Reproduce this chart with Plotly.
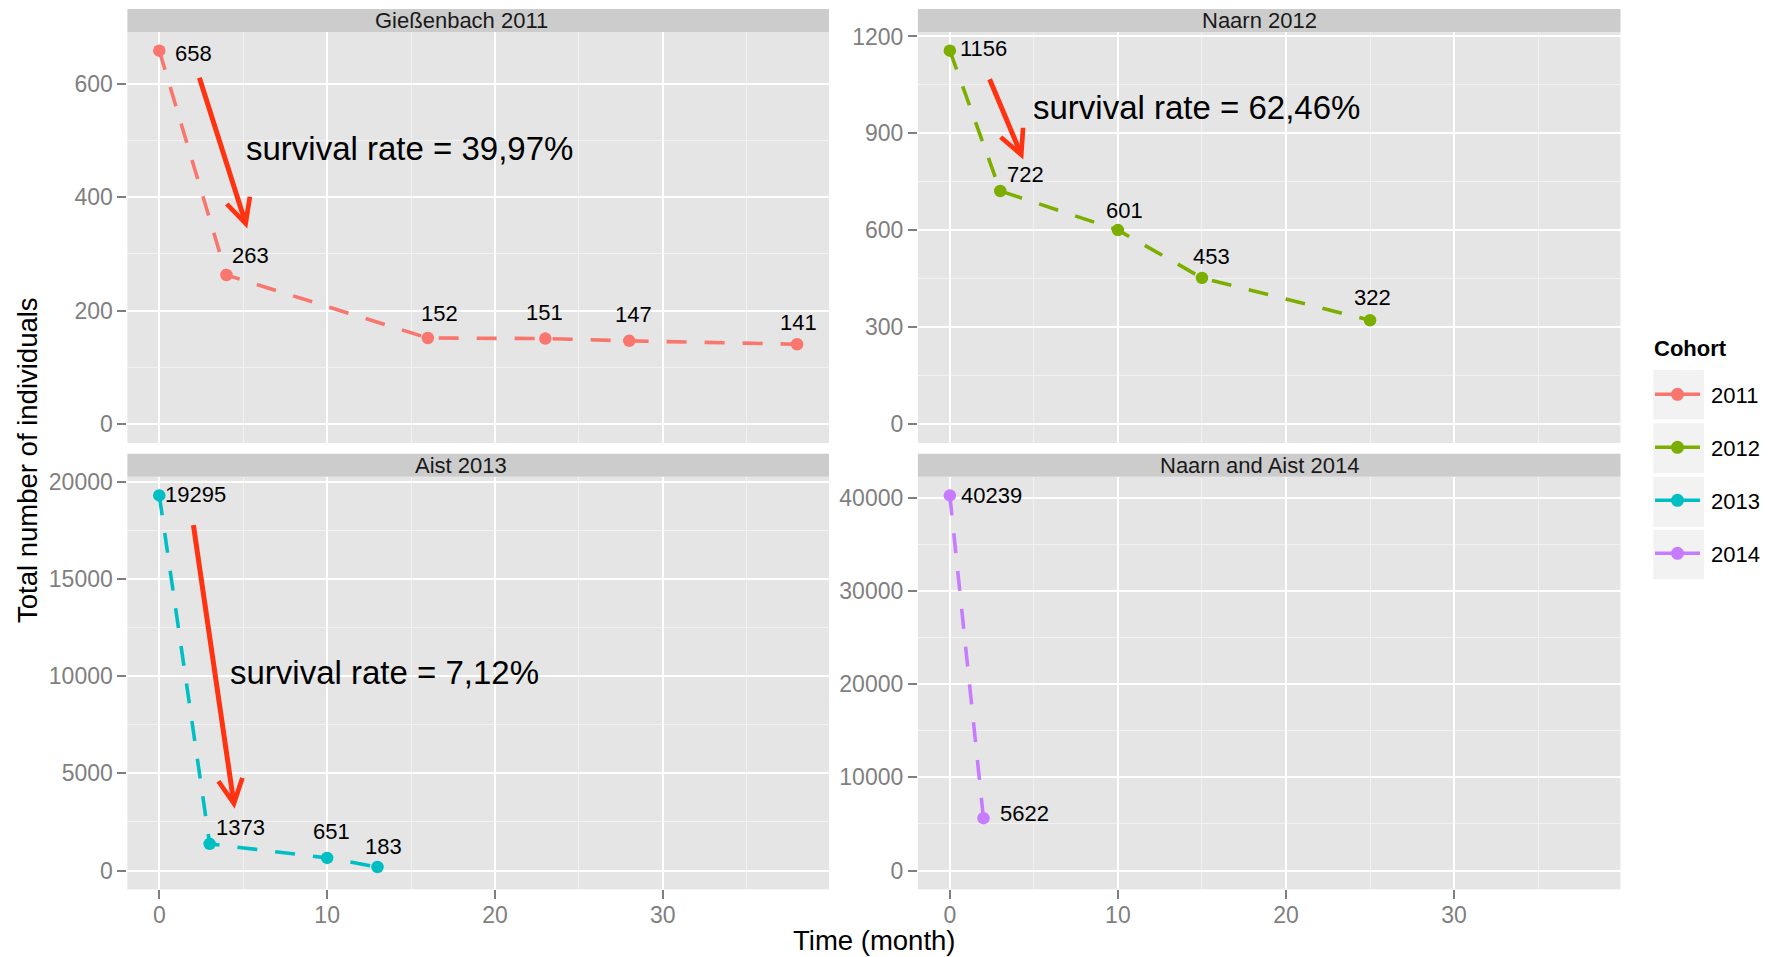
import plotly.graph_objects as go

# ---------------- data ----------------
cohorts = ["2011", "2012", "2013", "2014"]
panel_titles = ["Gießenbach 2011", "Naarn 2012", "Aist 2013", "Naarn and Aist 2014"]

months_2011 = [0, 4, 16, 23, 28, 38]
counts_2011 = [658, 263, 152, 151, 147, 141]

months_2012 = [0, 3, 10, 15, 25]
counts_2012 = [1156, 722, 601, 453, 322]

months_2013 = [0, 3, 10, 13]
counts_2013 = [19295, 1373, 651, 183]

months_2014 = [0, 2]
counts_2014 = [40239, 5622]

survival_texts = ["survival rate = 39,97%", "survival rate = 62,46%", "survival rate = 7,12%"]
x_tick_vals = [0, 10, 20, 30]
y_tick_steps = [200, 300, 5000, 10000]

x_title = "Time (month)"
y_title = "Total number of individuals"
legend_title = "Cohort"

# ---------------- styles / layout ----------------
W, H = 1778, 957
FONT = "Liberation Sans, Arial, Helvetica, sans-serif"
colors = ["#F8766D", "#7CAE00", "#00BFC4", "#C77CFF"]
arrow_color = "#FF3311"

# panel pixel boxes (left, right, top, bottom)
col_px = [(127.4, 829.0), (917.9, 1620.5)]
row_px = [(32.0, 443.0), (476.7, 889.3)]
strip_h = 23.0
strip_text_x = [461.0, 1259.0]

# label offsets in pixels (dx right, dy up)
label_shifts = [
    [(34.5, -3), (24, 19), (12, 25), (-1, 26), (4, 26), (1, 21.5)],
    [(34, 2.4), (25.7, 16), (6.5, 20), (9.5, 21.4), (2, 23)],
    [(36.4, 1), (31, 16), (4, 26), (6, 20)],
    [(42, 0), (41, 5)],
]
# arrows: (tail_x, tail_y, tip_x, tip_y) in data units per panel
arrows = [(2.36, 613, 5.24, 345), (2.33, 1072, 4.37, 819), (2.02, 17850, 4.49, 3180)]
# survival text centre positions in data units
survival_pos = [(14.9, 485), (14.7, 979), (13.4, 10210)]

months = [months_2011, months_2012, months_2013, months_2014]
counts = [counts_2011, counts_2012, counts_2013, counts_2014]


def px_x(x):
    return x / W


def px_y(y):
    return 1 - y / H


fig = go.Figure()
annotations = []
shapes = []

all_months = [m for ms in months for m in ms]
xmin, xmax = min(all_months), max(all_months)
xspan = xmax - xmin
x_range = [xmin - 0.05 * xspan, xmax + 0.05 * xspan]

for i in range(4):
    r, c = divmod(i, 2)
    ax_id = "" if i == 0 else str(i + 1)
    xa, ya = "x" + ax_id, "y" + ax_id
    fig.add_trace(go.Scatter(
        x=months[i], y=counts[i], mode="lines+markers",
        line=dict(color=colors[i], width=3.6, dash="20px,18px"),
        marker=dict(color=colors[i], size=12.5),
        xaxis=xa, yaxis=ya, showlegend=False, hoverinfo="x+y",
    ))
    ymax = max(counts[i])
    y_range = [-0.05 * ymax, 1.05 * ymax]
    bottom = (r == 1)
    xdom = [px_x(col_px[c][0]), px_x(col_px[c][1])]
    ydom = [px_y(row_px[r][1]), px_y(row_px[r][0])]
    fig.update_layout(**{
        ("xaxis" + ax_id): dict(
            domain=xdom, anchor=ya, range=x_range, automargin=False,
            tickmode="array", tickvals=x_tick_vals,
            showgrid=True, gridcolor="white", gridwidth=2,
            minor=dict(tickmode="linear", tick0=0, dtick=5, showgrid=True,
                       gridcolor="#F2F2F2", gridwidth=1, ticks=""),
            zeroline=False, showline=False,
            ticks="outside" if bottom else "", ticklen=9, tickwidth=2, tickcolor="#7F7F7F",
            showticklabels=bottom, ticklabelstandoff=-4,
            tickfont=dict(family=FONT, size=23, color="#7F7F7F"),
            fixedrange=True,
        ),
        ("yaxis" + ax_id): dict(
            domain=ydom, anchor=xa, range=y_range, automargin=False,
            tickmode="linear", tick0=0, dtick=y_tick_steps[i], tickformat="d",
            showgrid=True, gridcolor="white", gridwidth=2,
            minor=dict(tickmode="linear", tick0=0, dtick=y_tick_steps[i] / 2, showgrid=True,
                       gridcolor="#F2F2F2", gridwidth=1, ticks=""),
            zeroline=False, showline=False,
            ticks="outside", ticklen=9, tickwidth=2, tickcolor="#7F7F7F",
            tickfont=dict(family=FONT, size=23, color="#7F7F7F"),
            fixedrange=True,
        ),
    })
    # strip
    shapes.append(dict(type="rect", xref="paper", yref="paper",
                       x0=xdom[0], x1=xdom[1],
                       y0=px_y(row_px[r][0]), y1=px_y(row_px[r][0] - strip_h),
                       fillcolor="#CCCCCC", line=dict(width=0), layer="below"))
    annotations.append(dict(text=panel_titles[i], xref="paper", yref="paper",
                            x=px_x(strip_text_x[c]), y=px_y(row_px[r][0] - strip_h / 2),
                            xanchor="center", yanchor="middle", showarrow=False,
                            font=dict(family=FONT, size=22, color="#1A1A1A")))
    # value labels
    for (mx, cy), (dx, dy) in zip(zip(months[i], counts[i]), label_shifts[i]):
        annotations.append(dict(text=str(cy), xref=xa, yref=ya, x=mx, y=cy,
                                xshift=dx, yshift=dy, showarrow=False,
                                xanchor="center", yanchor="middle",
                                font=dict(family=FONT, size=22, color="black")))
    # arrow + survival text
    if i < 3:
        tx, ty, hx, hy = arrows[i]
        annotations.append(dict(text="", xref=xa, yref=ya, x=hx, y=hy,
                                axref=xa, ayref=ya, ax=tx, ay=ty,
                                showarrow=True, arrowhead=5, arrowsize=0.95, arrowwidth=5,
                                arrowcolor=arrow_color, standoff=0, startstandoff=0))
        sx, sy = survival_pos[i]
        annotations.append(dict(text=survival_texts[i], xref=xa, yref=ya, x=sx, y=sy,
                                showarrow=False, xanchor="center", yanchor="middle",
                                font=dict(family=FONT, size=33, color="black")))

# legend-only traces (solid key lines)
for i, name in enumerate(cohorts):
    fig.add_trace(go.Scatter(
        x=[None], y=[None], mode="lines+markers", name="\u00a0" + name,
        line=dict(color=colors[i], width=3.6),
        marker=dict(color=colors[i], size=13),
        legendgroup=name, showlegend=True,
    ))

# legend key backgrounds
key_rows = [(370, 419.3), (423.3, 473.3), (476.7, 526.7), (530, 579.3)]
for y0, y1 in key_rows:
    shapes.append(dict(type="rect", xref="paper", yref="paper",
                       x0=px_x(1653.3), x1=px_x(1704), y0=px_y(y1), y1=px_y(y0),
                       fillcolor="#F2F2F2", line=dict(width=0), layer="below"))

# legend title
annotations.append(dict(text="<b>" + legend_title + "</b>", xref="paper", yref="paper",
                        x=px_x(1652), y=px_y(348), xanchor="left", yanchor="middle",
                        showarrow=False, font=dict(family=FONT, size=22, color="black")))

# axis titles
annotations.append(dict(text=x_title, xref="paper", yref="paper", x=px_x(874), y=px_y(940),
                        showarrow=False, xanchor="center", yanchor="middle",
                        font=dict(family=FONT, size=27.5, color="black")))
annotations.append(dict(text=y_title, xref="paper", yref="paper", x=px_x(28), y=px_y(460),
                        showarrow=False, xanchor="center", yanchor="middle", textangle=-90,
                        font=dict(family=FONT, size=27.5, color="black")))

fig.update_layout(
    width=W, height=H, autosize=False,
    margin=dict(l=0, r=0, t=0, b=0, autoexpand=False),
    paper_bgcolor="white", plot_bgcolor="#E5E5E5",
    annotations=annotations, shapes=shapes,
    showlegend=True,
    legend=dict(
        x=px_x(1650), xanchor="left", y=px_y(373.5), yanchor="top",
        font=dict(family=FONT, size=22, color="black"),
        bgcolor="rgba(0,0,0,0)", tracegroupgap=21.4, itemsizing="trace", itemwidth=45,
    ),
)

pin_script = (
    "document.documentElement.style.margin='0';document.body.style.margin='0';"
    "document.body.style.overflow='hidden';"
    "var d=document.getElementById('{plot_id}');"
    "d.style.position='fixed';d.style.left='0px';d.style.top='0px';"
)
fig.write_html("out.html", post_script=pin_script,
               config={"displayModeBar": False, "responsive": False})
